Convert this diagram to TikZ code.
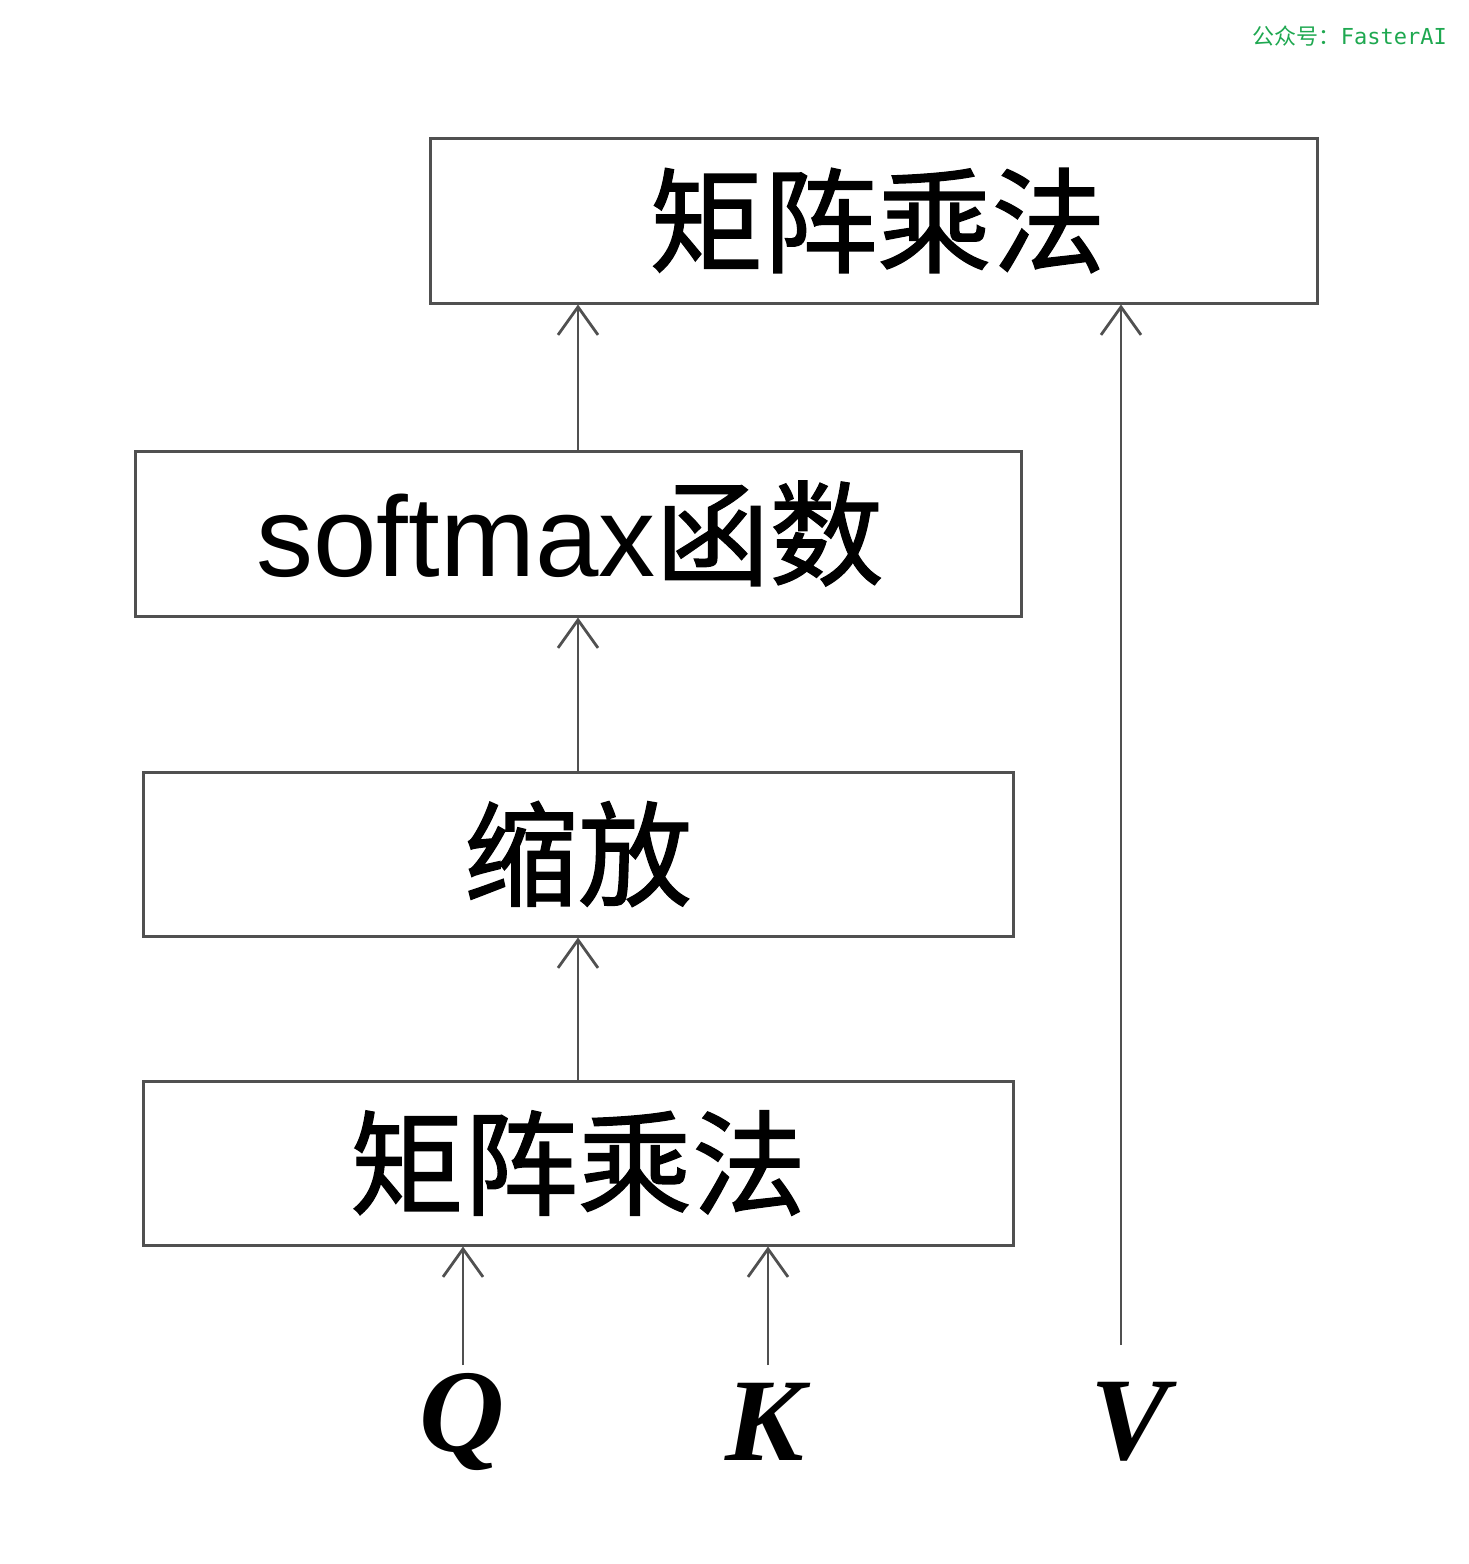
\documentclass[tikz,border=0pt]{standalone}
\usepackage{fontspec}
\setmainfont{Liberation Serif}
\newfontfamily\cjk{Noto Sans CJK SC}
\newfontfamily\cjkb[FakeBold=1.2]{Noto Sans CJK SC}
\newfontfamily\arialf{Liberation Sans}
\newfontfamily\monof{DejaVu Sans Mono}
\usetikzlibrary{arrows.meta}
\definecolor{linegray}{RGB}{80,80,80}
\definecolor{wmgreen}{RGB}{30,168,80}
\begin{document}
\begin{tikzpicture}[x=1pt,y=-1pt,
  opbox/.style={draw=linegray,line width=3pt,rectangle,inner sep=0pt,
    font=\cjkb\fontsize{114}{114}\selectfont},
  conn/.style={draw=linegray,line width=2.8pt,
    -{Straight Barb[length=28pt,width=40pt,line width=2.8pt]}},
  letter/.style={font=\bfseries\itshape\fontsize{118}{118}\selectfont,inner sep=0pt}]
\useasboundingbox (0,0) rectangle (1468,1564);
\fill[white] (0,0) rectangle (1468,1564);
\node[anchor=east,text=wmgreen,inner sep=0pt] (wm) at (1447,36)
  {\cjk\fontsize{22}{22}\selectfont 公众号：\monof FasterAI};
\node[opbox,minimum width=887pt,minimum height=165pt] (mm2) at (873.5,220.5) {\hspace*{8pt}矩阵乘法};
\node[opbox,minimum width=886pt,minimum height=165pt] (sm) at (578,533.5) {\hspace*{-16pt}{\arialf\mdseries softmax}函数};
\node[opbox,minimum width=870pt,minimum height=164pt] (sc) at (578,854) {缩放};
\node[opbox,minimum width=870pt,minimum height=164pt] (mm1) at (578,1163) {矩阵乘法};
\node[letter] (Q) at (462,1422) {Q};
\node[letter] (K) at (765,1422) {K};
\node[letter] (V) at (1130,1422) {V};
\coordinate (qa) at (463,1365);
\coordinate (ka) at (768,1365);
\coordinate (va) at (1121,1345);
\draw[conn] (mm1.north) -- (sc.south);
\draw[conn] (sc.north) -- (sm.south);
\draw[conn] (sm.north) -- (sm.north |- mm2.south);
\draw[conn] (qa) -- (qa |- mm1.south);
\draw[conn] (ka) -- (ka |- mm1.south);
\draw[conn] (va) -- (va |- mm2.south);
\end{tikzpicture}
\end{document}
